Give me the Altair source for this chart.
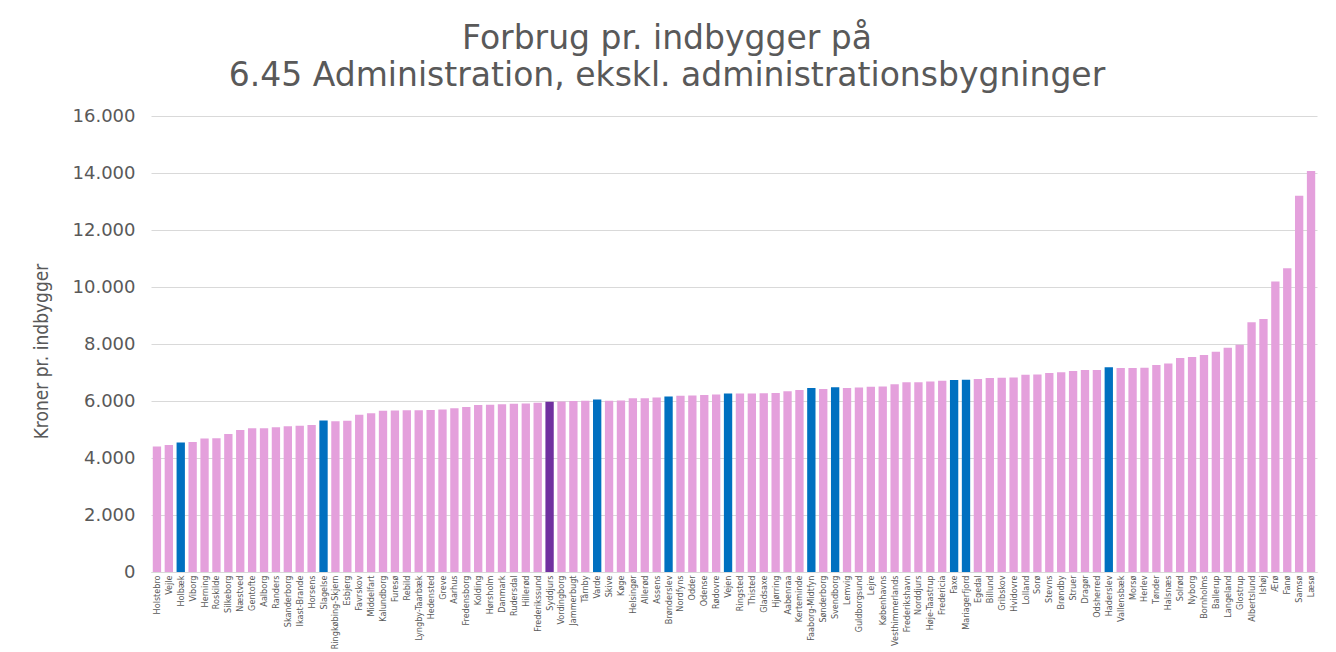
import altair as alt
import pandas as pd

kommuner = [
    "Holstebro", "Vejle", "Holbæk", "Viborg", "Herning", "Roskilde", "Silkeborg", "Næstved",
    "Gentofte", "Aalborg", "Randers", "Skanderborg", "Ikast-Brande", "Horsens", "Slagelse",
    "Ringkøbing-Skjern", "Esbjerg", "Favrskov", "Middelfart", "Kalundborg", "Furesø", "Rebild",
    "Lyngby-Taarbæk", "Hedensted", "Greve", "Aarhus", "Fredensborg", "Kolding", "Hørsholm",
    "Danmark", "Rudersdal", "Hillerød", "Frederikssund", "Syddjurs", "Vordingborg", "Jammerbugt",
    "Tårnby", "Varde", "Skive", "Køge", "Helsingør", "Allerød", "Assens", "Brønderslev",
    "Nordfyns", "Odder", "Odense", "Rødovre", "Vejen", "Ringsted", "Thisted", "Gladsaxe",
    "Hjørring", "Aabenraa", "Kerteminde", "Faaborg-Midtfyn", "Sønderborg", "Svendborg", "Lemvig",
    "Guldborgsund", "Lejre", "Københavns", "Vesthimmerlands", "Frederikshavn", "Norddjurs",
    "Høje-Taastrup", "Fredericia", "Faxe", "Mariagerfjord", "Egedal", "Billund", "Gribskov",
    "Hvidovre", "Lolland", "Sorø", "Stevns", "Brøndby", "Struer", "Dragør", "Odsherred",
    "Haderslev", "Vallensbæk", "Morsø", "Herlev", "Tønder", "Halsnæs", "Solrød", "Nyborg",
    "Bornholms", "Ballerup", "Langeland", "Glostrup", "Albertslund", "Ishøj", "Ærø", "Fanø",
    "Samsø", "Læsø",
]

kroner = [
    4400, 4460, 4540, 4560, 4680, 4690, 4840, 4980,
    5040, 5045, 5075, 5110, 5135, 5160, 5320,
    5290, 5310, 5520, 5570, 5660, 5665, 5675,
    5675, 5680, 5700, 5745, 5790, 5860, 5865,
    5885, 5905, 5910, 5940, 5975, 5980, 6000,
    6005, 6050, 6012, 6015, 6095, 6100, 6120, 6155,
    6185, 6190, 6210, 6225, 6260, 6262, 6265, 6268,
    6280, 6340, 6385, 6455, 6420, 6480, 6460,
    6470, 6500, 6505, 6585, 6655, 6660,
    6680, 6712, 6737, 6750, 6775, 6805, 6820,
    6822, 6925, 6930, 6980, 7005, 7050, 7085, 7090,
    7180, 7160, 7162, 7170, 7265, 7320, 7510, 7545,
    7615, 7730, 7870, 7975, 8760, 8880, 10190, 10655,
    13205, 14070,
]

gruppe = ["Øvrige"] * len(kommuner)
for navn in ["Holbæk", "Slagelse", "Varde", "Brønderslev", "Vejen", "Faaborg-Midtfyn",
             "Svendborg", "Faxe", "Mariagerfjord", "Haderslev"]:
    gruppe[kommuner.index(navn)] = "Sammenlignings"
gruppe[kommuner.index("Syddjurs")] = "Syddjurs"

df = pd.DataFrame({"kommune": kommuner, "kroner": kroner, "gruppe": gruppe})

grey = "#595959"
wide = "DejaVu Sans"
narrow = "Liberation Sans Narrow, DejaVu Sans Condensed, Arial Narrow"

chart = alt.Chart(df).mark_bar().encode(
    x=alt.X("kommune:N", sort=None, title=None,
            scale=alt.Scale(paddingInner=0.3, paddingOuter=0.15),
            axis=alt.Axis(labelAngle=-90, labelFontSize=9, labelColor=grey,
                          labelFont=narrow,
                          labelPadding=3, ticks=False, domainColor="#D9D9D9",
                          labelOverlap=False)),
    y=alt.Y("kroner:Q", title="Kroner pr. indbygger",
            scale=alt.Scale(domain=[0, 16000], nice=False),
            axis=alt.Axis(values=list(range(0, 16001, 2000)),
                          labelExpr="replace(format(datum.value, ','), ',', '.')",
                          labelFontSize=18, labelColor=grey, labelFont=wide, labelPadding=16,
                          ticks=False, domain=False, gridColor="#D9D9D9",
                          titleFontSize=19, titleColor=grey, titleFont=narrow,
                          titleFontWeight="normal", titleX=-100, titleY=235)),
    color=alt.Color("gruppe:N", legend=None,
                    scale=alt.Scale(domain=["Øvrige", "Sammenlignings", "Syddjurs"],
                                    range=["#E4A0DC", "#0070C0", "#7030A0"])),
).properties(
    width=1166,
    height=456,
    title=alt.TitleParams(
        ["Forbrug pr. indbygger på", "6.45 Administration, ekskl. administrationsbygninger"],
        fontSize=33, color=grey, font=wide, fontWeight="normal", anchor="middle",
        lineHeight=37, offset=14, dx=-67),
    autosize=alt.AutoSizeParams(type="none"),
    padding={"left": 143, "top": 108, "right": 10, "bottom": 80},
).configure_view(stroke=None)

chart.save("out.html", embed_options={"renderer": "svg", "actions": False})
